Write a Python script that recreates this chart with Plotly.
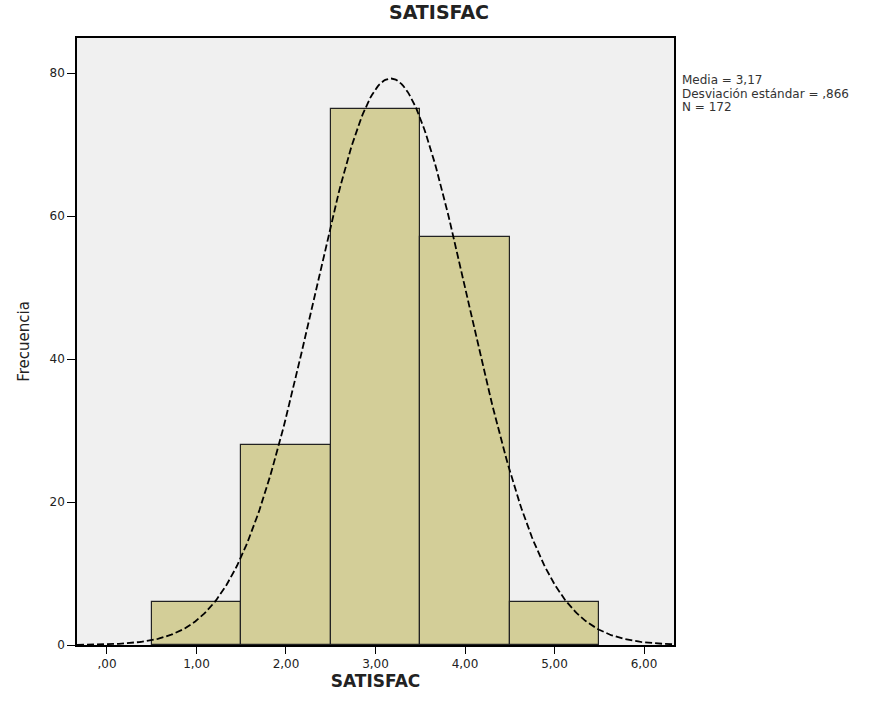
import numpy as np
import plotly.graph_objects as go

categories = [1, 2, 3, 4, 5]
frequencies = [6, 28, 75, 57, 6]
x_tickvals = [0, 1, 2, 3, 4, 5, 6]
x_ticktext = [",00", "1,00", "2,00", "3,00", "4,00", "5,00", "6,00"]
y_tickvals = [0, 20, 40, 60, 80]
stats_lines = ["Media = 3,17", "Desviación estándar = ,866", "N = 172"]
mean_val = 3.17
sd_val = 0.866
n_val = 172
bin_width = 1.0

xs = np.linspace(-0.335, 6.335, 400)
ys = n_val * bin_width / (sd_val * np.sqrt(2 * np.pi)) * np.exp(-0.5 * ((xs - mean_val) / sd_val) ** 2)

FONT = "DejaVu Sans, Liberation Sans, Arial, sans-serif"

fig = go.Figure()
fig.add_trace(go.Bar(
    x=categories, y=frequencies, width=1.0,
    marker=dict(color="#D3CE98", line=dict(color="#222222", width=1.2)),
    showlegend=False, hoverinfo="skip",
))
fig.add_trace(go.Scatter(
    x=xs, y=ys, mode="lines",
    line=dict(color="black", width=1.8, dash="7px,3px"),
    showlegend=False, hoverinfo="skip",
))

axis_font = dict(family=FONT, size=12, color="#222222")
H = 714
annotations = []
for i, line in enumerate(stats_lines):
    annotations.append(dict(
        xref="paper", yref="paper", x=1.01, y=(H - 69 - (80 + 13.5 * i)) / (H - 38 - 69),
        xanchor="left", yanchor="middle", align="left", showarrow=False,
        text=line, font=dict(family=FONT, size=12, color="#333333"),
    ))

fig.update_layout(
    width=878, height=714,
    margin=dict(l=77, r=204, t=38, b=69),
    paper_bgcolor="white",
    plot_bgcolor="#F0F0F0",
    bargap=0,
    title=dict(text="<b>SATISFAC</b>", x=0.5, xanchor="center", y=1 - 12 / H, yanchor="middle",
               font=dict(family=FONT, size=19, color="#222222")),
    xaxis=dict(
        range=[-0.335, 6.335], tickvals=x_tickvals, ticktext=x_ticktext,
        showgrid=False, zeroline=False, showline=True, linecolor="black", linewidth=1.6,
        mirror=True, ticks="outside", ticklen=7, tickcolor="black", tickfont=axis_font,
        title=dict(text="<b>SATISFAC</b>", standoff=0,
                   font=dict(family=FONT, size=17, color="#222222")),
    ),
    yaxis=dict(
        range=[0, 84.9], tickvals=y_tickvals,
        showgrid=False, zeroline=False, showline=True, linecolor="black", linewidth=1.6,
        mirror=True, ticks="outside", ticklen=8, tickcolor="black", tickfont=axis_font,
        title=dict(text="Frecuencia", standoff=16,
                   font=dict(family=FONT, size=15, color="#222222")),
    ),
    annotations=annotations,
)

fig.write_html("out.html", config={"displayModeBar": False},
               post_script="document.body.style.margin='0px';")
